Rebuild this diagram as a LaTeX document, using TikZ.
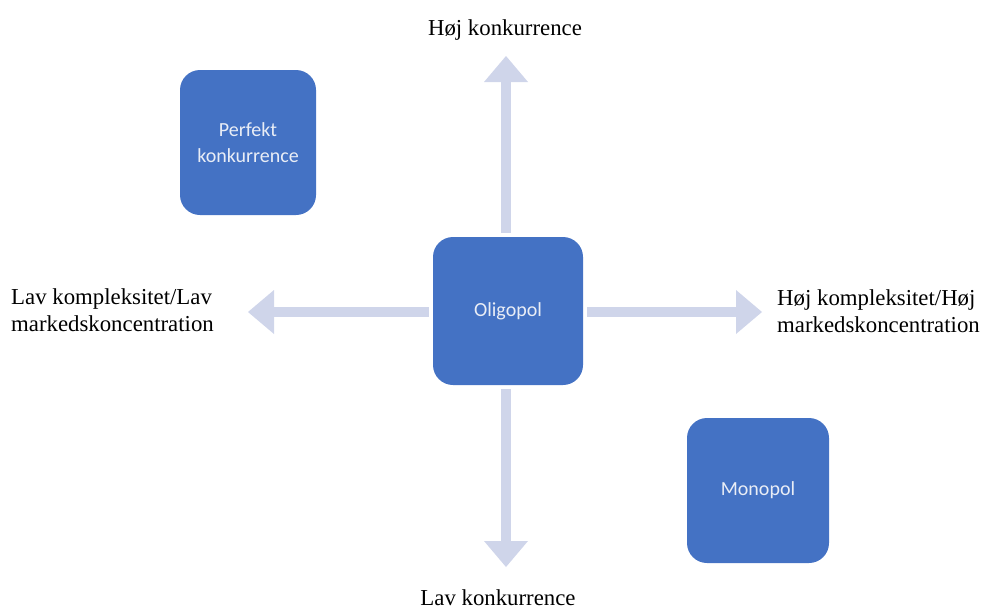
\documentclass[tikz,border=0pt]{standalone}
\usepackage{fontspec}
\setmainfont{Liberation Serif}
\newfontfamily\boxfont{Carlito}
\usetikzlibrary{arrows.meta}
\definecolor{boxblue}{HTML}{4472C4}
\definecolor{arrowc}{HTML}{CFD5EA}
\definecolor{boxtext}{HTML}{E9EDF6}
\tikzset{
  market/.style={fill=boxblue, rounded corners=20pt, minimum width=#1, align=center,
    font=\boxfont\fontsize{20}{26.5}\selectfont, text=boxtext, inner sep=0pt},
  axislabel/.style={font=\fontsize{22.8}{27}\selectfont, inner sep=0pt, text=black},
  bigarrow/.style={draw=arrowc, line width=10pt, shorten <=4pt,
    -{Triangle[width=44pt,length=26pt,line width=0pt 0 0,fill=arrowc]}}
}
\begin{document}
\begin{tikzpicture}[x=1pt,y=-1pt]
\useasboundingbox (0,0) rectangle (983,608);
% boxes
\node[market=136pt, minimum height=145pt] (perf) at (248,142.5) {Perfekt\\konkurrence};
\node[market=150pt, minimum height=148pt] (oligo) at (508,311) {Oligopol};
\node[market=142pt, minimum height=145pt] (mono) at (758,490.5) {Monopol};
% labels
\node[axislabel, anchor=base] (top) at (505,35) {Høj konkurrence};
\node[axislabel, anchor=base] (bottom) at (498,605) {Lav konkurrence};
\node[axislabel, anchor=west, align=left] (left) at (11,310) {Lav kompleksitet/Lav\\markedskoncentration};
\node[axislabel, anchor=west, align=left] (right) at (777,311) {Høj kompleksitet/Høj\\markedskoncentration};
% arrow tips
\coordinate (tipN) at (506,56);
\coordinate (tipS) at (506,567);
\coordinate (tipW) at (248,312);
\coordinate (tipE) at (762,312);
\draw[bigarrow] (oligo.north -| tipN) -- (tipN);
\draw[bigarrow] (oligo.south -| tipS) -- (tipS);
\draw[bigarrow] (oligo.west |- tipW) -- (tipW);
\draw[bigarrow] (oligo.east |- tipE) -- (tipE);
\end{tikzpicture}
\end{document}
